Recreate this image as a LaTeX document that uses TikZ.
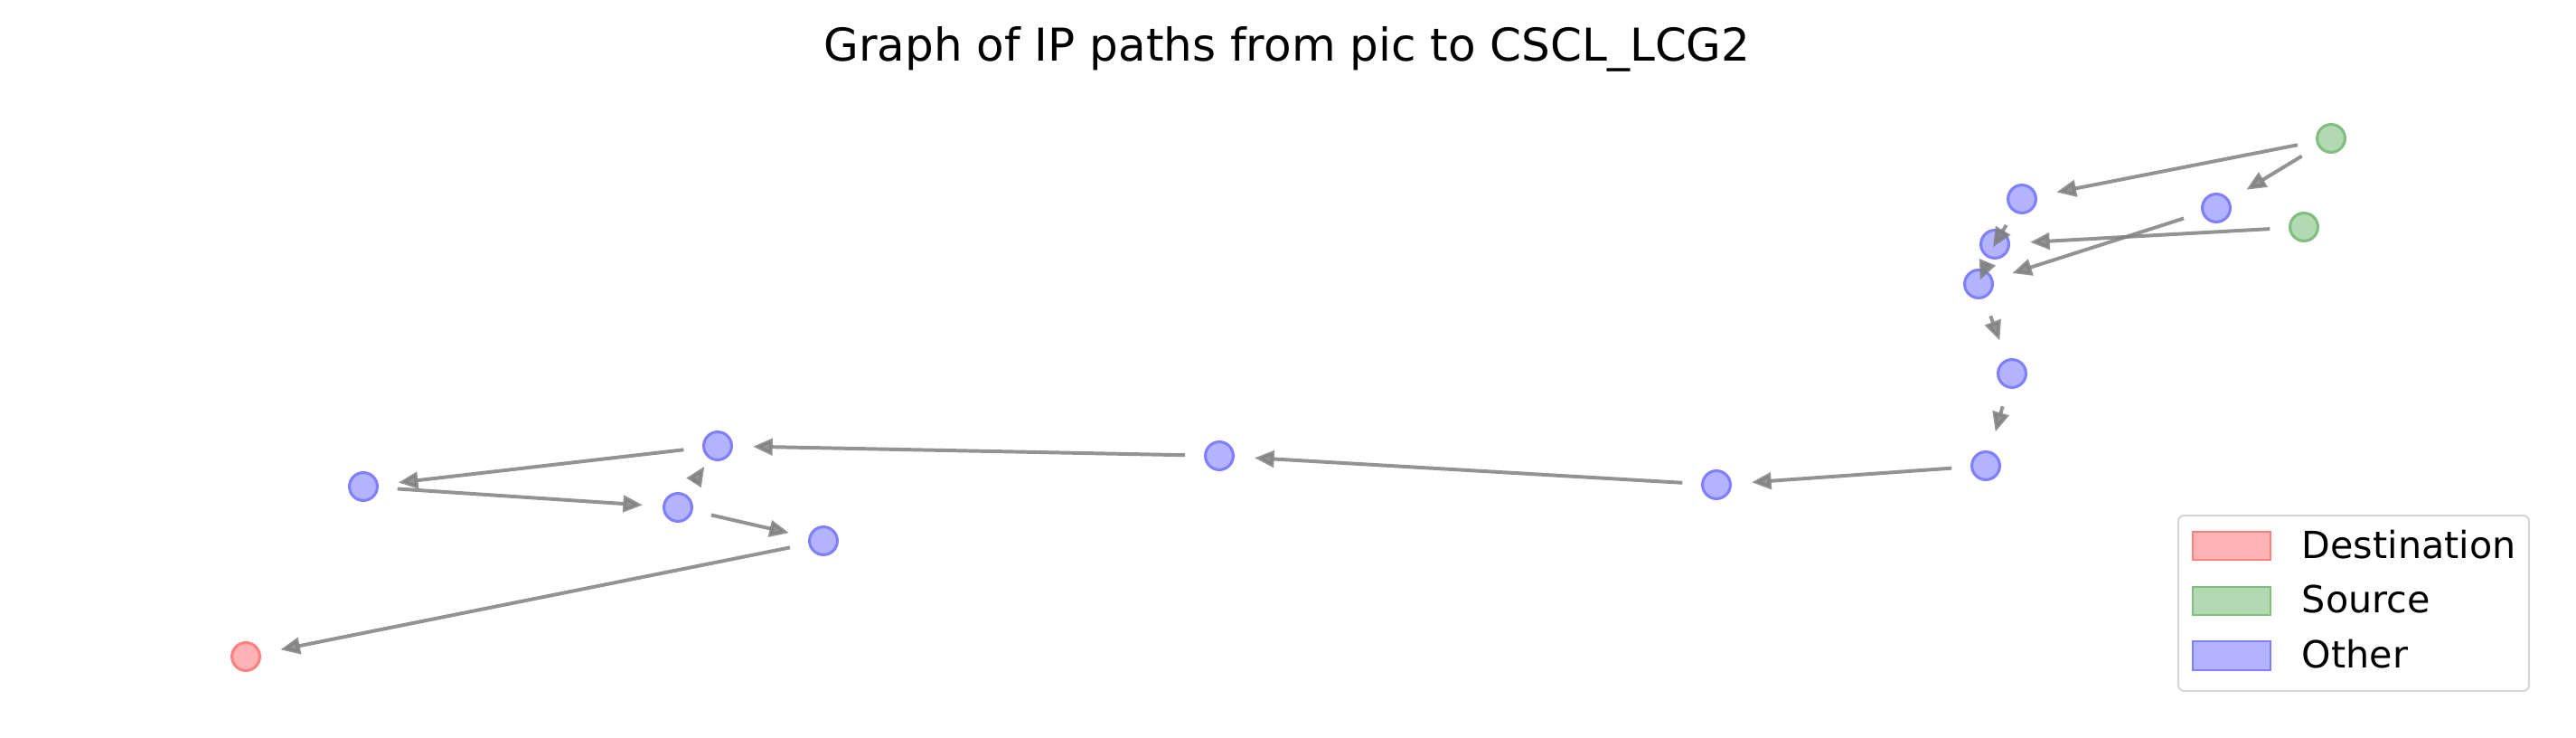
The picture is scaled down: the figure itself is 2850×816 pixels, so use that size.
\documentclass[tikz,border=0pt]{standalone}
\usepackage{fontspec}
\setmainfont{DejaVu Sans}
\usetikzlibrary{arrows.meta}
\definecolor{ofill}{HTML}{B3B3FF}
\definecolor{oline}{HTML}{8080FF}
\definecolor{sfill}{HTML}{B3D9B3}
\definecolor{sline}{HTML}{80BF80}
\definecolor{dfill}{HTML}{FFB3B3}
\definecolor{dline}{HTML}{FF8080}
\definecolor{edgegray}{HTML}{808080}
\definecolor{legframe}{HTML}{D6D6D6}
\begin{document}
\begin{tikzpicture}[x=0.24pt,y=-0.24pt,
  vnode/.style={circle,inner sep=0pt,minimum size=7.4pt,line width=0.75pt},
  other/.style={vnode,fill=ofill,draw=oline},
  source/.style={vnode,fill=sfill,draw=sline},
  dest/.style={vnode,fill=dfill,draw=dline},
  link/.style={draw=edgegray,opacity=0.85,line width=0.95pt,
    -{Triangle[length=5.2pt,width=4.4pt]},shorten <=5pt,shorten >=5.3pt},
  patchbox/.style={line width=0.6pt},
  legtext/.style={anchor=base west,font=\fontsize{9.9}{12}\selectfont,inner sep=0pt},
]
\useasboundingbox (0,0) rectangle (2850,816);

\node[anchor=base,font=\fontsize{12}{14}\selectfont,inner sep=0pt] (title) at (1424,68) {Graph of IP paths from pic to CSCL\_LCG2};

% nodes
\node[source] (s1) at (2579,153) {};
\node[source] (s2) at (2549,251) {};
\node[other] (a) at (2237,220) {};
\node[other] (b) at (2452,230) {};
\node[other] (c) at (2207,270) {};
\node[other] (d) at (2189,314) {};
\node[other] (e) at (2226,413) {};
\node[other] (f) at (2197,515) {};
\node[other] (g) at (1899,536) {};
\node[other] (h) at (1349,504) {};
\node[other] (i) at (794,493) {};
\node[other] (j) at (402,538) {};
\node[other] (k) at (750,561) {};
\node[other] (l) at (911,598) {};
\node[dest] (dst) at (272,726) {};

% edges
\draw[link] (s1) -- (a);
\draw[link] (s1) -- (b);
\draw[link] (s2) -- (c);
\draw[link] (b) -- (d);
\draw[link,shorten <=4pt,shorten >=-5pt] (a) -- (c);
\draw[link,shorten <=3.5pt,shorten >=-3pt] (c) -- (d);
\draw[link] (d) -- (e);
\draw[link] (e) -- (f);
\draw[link] (f) -- (g);
\draw[link] (g) -- (h);
\draw[link] (h) -- (i);
\draw[link] (i) -- (j);
\draw[link] (j) -- (k);
\draw[link,shorten >=2.4pt] (k) -- (i);
\draw[link] (k) -- (l);
\draw[link] (l) -- (dst);

% legend
\draw[legframe,line width=0.5pt,fill=white,rounded corners=1.5pt] (2410,570) rectangle (2798,764);
\draw[patchbox,fill=dfill,draw=dline] (2426,588) rectangle (2512,619);
\draw[patchbox,fill=sfill,draw=sline] (2426,649) rectangle (2512,680);
\draw[patchbox,fill=ofill,draw=oline] (2426,709) rectangle (2512,741);
\node[legtext] (ld) at (2546,618) {Destination};
\node[legtext] (ls) at (2546,678) {Source};
\node[legtext] (lo) at (2546,739) {Other};
\end{tikzpicture}
\end{document}
